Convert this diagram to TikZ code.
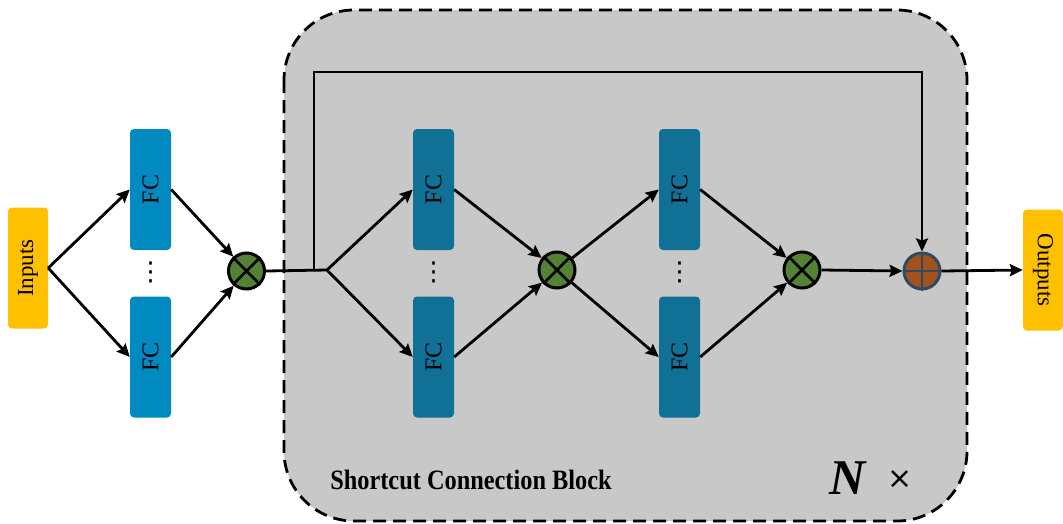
\documentclass[tikz,border=0pt]{standalone}
\usepackage{fontspec}
\setmainfont{Liberation Serif}
\newfontfamily\dejavu{DejaVu Sans}
\usetikzlibrary{arrows.meta}
\definecolor{gold}{RGB}{255,192,0}
\definecolor{fcblue}{RGB}{0,138,192}
\definecolor{fcdark}{RGB}{16,112,150}
\definecolor{blockgray}{RGB}{200,200,200}
\definecolor{mulgreen}{RGB}{84,130,53}
\definecolor{addbrown}{RGB}{163,82,28}
\definecolor{addblue}{RGB}{47,75,100}
\tikzset{
  io/.style={draw=none, fill=gold, rounded corners=4pt, minimum width=40pt, minimum height=121pt, inner sep=0pt, font=\fontsize{23}{27}\selectfont},
  fcbox/.style={draw=none, rounded corners=4pt, minimum width=41pt, minimum height=121pt, inner sep=0pt, font=\fontsize{24}{28}\selectfont},
  mul/.style={circle, draw=black, line width=3pt, fill=mulgreen, minimum size=36pt, inner sep=0pt},
  addn/.style={circle, draw=addblue, line width=3pt, fill=addbrown, minimum size=36pt, inner sep=0pt},
  conn/.style={line width=2.8pt, draw=black},
  arr/.style={conn, -{Stealth[length=13pt,width=12pt,inset=2pt]}},
  dotsn/.style={inner sep=0pt, font=\dejavu\fontsize{26}{30}\selectfont}
}
\begin{document}
\begin{tikzpicture}[x=1pt,y=-1pt]
\useasboundingbox (0,0) rectangle (1063,523);
% block
\draw[line width=2.8pt, dash pattern=on 13pt off 7pt, fill=blockgray, rounded corners=70pt] (284,10) rectangle (967,521);
% nodes
\node[io] (inp) at (28,268) {\rotatebox{90}{Inputs}};
\node[io] (out) at (1043,270) {\rotatebox{-90}{Outputs}};
\node[fcbox, fill=fcblue] (fa) at (150.5,189.5) {\rotatebox{90}{FC}};
\node[fcbox, fill=fcblue] (fb) at (150.5,357) {\rotatebox{90}{FC}};
\node[dotsn] (da) at (150.5,272) {⋮};
\node[fcbox, fill=fcdark] (ga) at (433.5,189.5) {\rotatebox{90}{FC}};
\node[fcbox, fill=fcdark] (gb) at (433.5,357) {\rotatebox{90}{FC}};
\node[dotsn] (db) at (433.5,272) {⋮};
\node[fcbox, fill=fcdark] (ha) at (679.5,189.5) {\rotatebox{90}{FC}};
\node[fcbox, fill=fcdark] (hb) at (679.5,357) {\rotatebox{90}{FC}};
\node[dotsn] (dc) at (679.5,272) {⋮};
\node[mul] (m1) at (246.5,271) {};
\node[mul] (m2) at (557,270) {};
\node[mul] (m3) at (802,270) {};
\node[addn] (p) at (922,271) {};
\foreach \m in {m1,m2,m3}{
  \draw[line width=2.8pt] (\m.north west) -- (\m.south east) (\m.north east) -- (\m.south west);
}
\draw[line width=2.8pt, addblue] (p.north) -- (p.south) (p.west) -- (p.east);
\coordinate (b1) at (327,270);
\coordinate (s1) at (314,270);
\coordinate (t1) at (314,72);
\coordinate (t2) at (922,72);
% connectors
\draw[arr] (inp.east) -- (fa.west);
\draw[arr] (inp.east) -- (fb.west);
\draw[arr] (fa.east) -- (m1);
\draw[arr] (fb.east) -- (m1);
\draw[conn] (m1.east) -- (b1);
\draw[arr] (b1) -- (ga.west);
\draw[arr] (b1) -- (gb.west);
\draw[arr] (ga.east) -- (m2);
\draw[arr] (gb.east) -- (m2);
\draw[arr] (m2) -- (ha.west);
\draw[arr] (m2) -- (hb.west);
\draw[arr] (ha.east) -- (m3);
\draw[arr] (hb.east) -- (m3);
\draw[arr] (m3.east) -- (p.west);
\draw[arr] (p.east) -- (out.west);
\draw[arr, line join=miter] (s1) -- (t1) -- (t2) -- (p.north);
% labels
\node[font=\fontsize{28}{30}\selectfont\bfseries, inner sep=0pt] (lbl) at (471,480) {\scalebox{0.87}[1]{Shortcut Connection Block}};
\node[font=\fontsize{50}{54}\selectfont\bfseries\itshape, inner sep=0pt] (nn) at (848,478) {N};
\node[font=\dejavu\fontsize{30}{34}\selectfont, inner sep=0pt] (xx) at (900,480) {×};
\end{tikzpicture}
\end{document}
